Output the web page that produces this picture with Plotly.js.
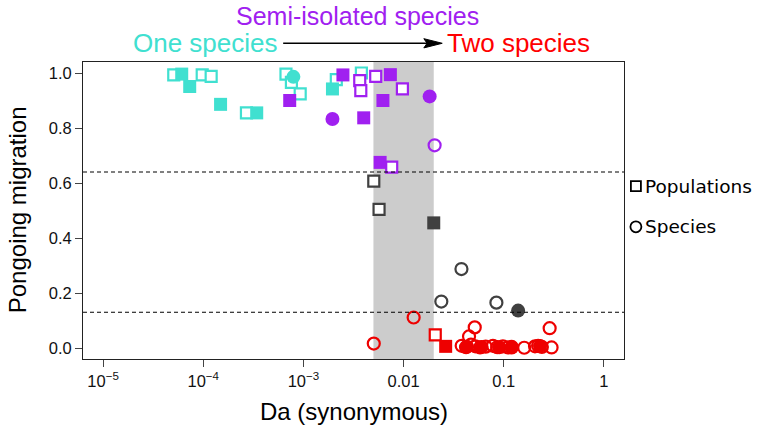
<!DOCTYPE html>
<html>
<head>
<meta charset="utf-8">
<script src="https://cdn.plot.ly/plotly-3.0.1.min.js"></script>
<style>html,body{margin:0;padding:0;background:#fff;}#chart{width:781px;height:429px;}</style>
</head>
<body>
<div id="chart"></div>
<script>
// ---- data ----
var xTickVals = [1e-5, 1e-4, 1e-3, 0.01, 0.1, 1];
var xTickText = ['10<sup>\u22125</sup>', '10<sup>\u22124</sup>', '10<sup>\u22123</sup>', '0.01', '0.1', '1'];
var yTickVals = [0, 0.2, 0.4, 0.6, 0.8, 1.0];
var yTickText = ['0.0', '0.2', '0.4', '0.6', '0.8', '1.0'];
var grayZone = [0.005, 0.02];
var thresholds = [0.64, 0.13];

// One species (turquoise)
var cyanPopOpenX = [5.08e-5, 9.77e-5, 1.20e-4, 2.70e-4, 6.70e-4, 7.59e-4, 9.29e-4, 2.13e-3, 3.79e-3];
var cyanPopOpenY = [0.993, 0.993, 0.988, 0.855, 0.996, 0.966, 0.924, 0.976, 1.0];
var cyanPopFillX = [6.10e-5, 7.33e-5, 1.49e-4, 3.42e-4, 1.95e-3];
var cyanPopFillY = [0.996, 0.951, 0.886, 0.855, 0.942];
var cyanSpFillX = [7.94e-4];
var cyanSpFillY = [0.986];

// Semi-isolated species (purple)
var purplePopFillX = [7.30e-4, 2.48e-3, 4.00e-3, 7.38e-3, 6.22e-3, 5.83e-3];
var purplePopFillY = [0.900, 0.993, 0.837, 0.994, 0.900, 0.675];
var purplePopOpenX = [3.65e-3, 3.74e-3, 5.27e-3, 9.73e-3, 7.61e-3];
var purplePopOpenY = [0.972, 0.936, 0.988, 0.942, 0.658];
var purpleSpFillX = [1.95e-3, 0.0182];
var purpleSpFillY = [0.833, 0.915];
var purpleSpOpenX = [0.0204];
var purpleSpOpenY = [0.737];

// Grey zone (dark grey)
var greyPopOpenX = [5.04e-3, 5.69e-3];
var greyPopOpenY = [0.607, 0.504];
var greyPopFillX = [0.0200];
var greyPopFillY = [0.455];
var greySpOpenX = [0.0378, 0.0238, 0.0844];
var greySpOpenY = [0.287, 0.169, 0.165];
var greySpFillX = [0.139];
var greySpFillY = [0.136];

// Two species (red)
var redPopOpenX = [0.0207];
var redPopOpenY = [0.048];
var redPopFillX = [0.0263];
var redPopFillY = [0.006];
var redSpOpenX = [5.04e-3, 0.0126, 0.0513, 0.045, 0.287, 0.038, 0.042, 0.047, 0.052, 0.058, 0.066, 0.078, 0.086, 0.098, 0.11, 0.12, 0.16, 0.205, 0.22, 0.24, 0.30];
var redSpOpenY = [0.016, 0.111, 0.075, 0.042, 0.072, 0.008, 0.003, 0.012, 0.006, 0.002, 0.005, 0.008, 0.003, 0.006, 0.002, 0.004, 0.001, 0.006, 0.008, 0.004, 0.002];
var redSpFillX = [0.043, 0.06, 0.09, 0.12, 0.23];
var redSpFillY = [0.005, 0.004, 0.003, 0.002, 0.007];

// ---- styles ----
var CYAN = '#40E0D0', PURPLE = '#A020F0', GREY = '#404040', RED = '#EE0000';

function tr(x, y, color, kind) {
  var m;
  if (kind === 'sqOpen') m = {symbol: 'square', size: 11, color: '#ffffff', line: {color: color, width: 2.2}};
  else if (kind === 'sqFill') m = {symbol: 'square', size: 13, color: color, line: {width: 0}};
  else if (kind === 'ciOpen') m = {symbol: 'circle-open', size: 12, color: color, line: {color: color, width: 2.2}};
  else m = {symbol: 'circle', size: 14, color: color, line: {width: 0}};
  return {x: x, y: y, type: 'scatter', mode: 'markers', marker: m, showlegend: false, hoverinfo: 'x+y'};
}

var data = [
  tr(cyanPopOpenX, cyanPopOpenY, CYAN, 'sqOpen'),
  tr(cyanPopFillX, cyanPopFillY, CYAN, 'sqFill'),
  tr(cyanSpFillX, cyanSpFillY, CYAN, 'ciFill'),
  tr(purplePopFillX, purplePopFillY, PURPLE, 'sqFill'),
  tr(purplePopOpenX, purplePopOpenY, PURPLE, 'sqOpen'),
  tr(purpleSpFillX, purpleSpFillY, PURPLE, 'ciFill'),
  tr(purpleSpOpenX, purpleSpOpenY, PURPLE, 'ciOpen'),
  tr(greyPopOpenX, greyPopOpenY, GREY, 'sqOpen'),
  tr(greyPopFillX, greyPopFillY, GREY, 'sqFill'),
  tr(greySpOpenX, greySpOpenY, GREY, 'ciOpen'),
  tr(greySpFillX, greySpFillY, GREY, 'ciFill'),
  tr(redPopOpenX, redPopOpenY, RED, 'sqOpen'),
  tr(redPopFillX, redPopFillY, RED, 'sqFill'),
  tr(redSpOpenX, redSpOpenY, RED, 'ciOpen'),
  tr(redSpFillX, redSpFillY, RED, 'ciFill')
];

var tickFont = {family: 'Liberation Sans, Arial, sans-serif', size: 16.5, color: '#111'};
var titleFont = {family: 'Liberation Sans, Arial, sans-serif', size: 24, color: '#000'};
var headFont = 'Liberation Sans, Arial, sans-serif';

var shapes = [
  {type: 'rect', xref: 'x', yref: 'paper', x0: grayZone[0], x1: grayZone[1], y0: 0, y1: 1,
   fillcolor: '#CCCCCC', line: {width: 0}, layer: 'below'}
];
thresholds.forEach(function (t) {
  shapes.push({type: 'line', xref: 'paper', yref: 'y', x0: 0, x1: 1, y0: t, y1: t,
    line: {color: '#000', width: 1, dash: '4px,3px'}, layer: 'above'});
});
// arrow between the header labels
shapes.push({type: 'line', xref: 'paper', yref: 'paper', x0: 0.370, x1: 0.640, y0: 1.063, y1: 1.063,
  line: {color: '#000', width: 1.6}});
shapes.push({type: 'path', xref: 'paper', yref: 'paper', path: 'M0.664,1.063 L0.630,1.0785 L0.636,1.063 L0.630,1.0475 Z',
  fillcolor: '#000', line: {color: '#000', width: 1}});
// legend symbols
shapes.push({type: 'rect', xref: 'paper', yref: 'paper', xsizemode: 'pixel', ysizemode: 'pixel',
  xanchor: 1.022, yanchor: 0.582, x0: -5, x1: 5, y0: -5, y1: 5, line: {color: '#000', width: 1.8}});
shapes.push({type: 'circle', xref: 'paper', yref: 'paper', xsizemode: 'pixel', ysizemode: 'pixel',
  xanchor: 1.022, yanchor: 0.445, x0: -5.5, x1: 5.5, y0: -5.5, y1: 5.5, line: {color: '#000', width: 1.8}});

var annotations = [
  {text: 'Semi-isolated species', xref: 'paper', yref: 'paper', x: 0.507, y: 1.204, showarrow: false,
   xanchor: 'center', yanchor: 'top', borderpad: 0, font: {family: headFont, size: 25, color: PURPLE}},
  {text: 'One species', xref: 'paper', yref: 'paper', x: 0.226, y: 1.063, showarrow: false,
   xanchor: 'center', yanchor: 'middle', font: {family: headFont, size: 26, color: CYAN}},
  {text: 'Two species', xref: 'paper', yref: 'paper', x: 0.805, y: 1.063, showarrow: false,
   xanchor: 'center', yanchor: 'middle', font: {family: headFont, size: 26, color: '#FF0000'}},
  {text: 'Pongoing migration', xref: 'paper', yref: 'paper', x: -0.1195, y: 0.502, textangle: -90,
   showarrow: false, xanchor: 'center', yanchor: 'middle', font: titleFont},
  {text: 'Da (synonymous)', xref: 'paper', yref: 'paper', x: 0.5, y: -0.177, showarrow: false,
   xanchor: 'center', yanchor: 'middle', font: titleFont},
  {text: 'Populations', xref: 'paper', yref: 'paper', x: 1.035, y: 0.582, showarrow: false,
   xanchor: 'left', yanchor: 'middle', font: {family: 'DejaVu Sans, sans-serif', size: 18.5, color: '#000'}},
  {text: 'Species', xref: 'paper', yref: 'paper', x: 1.035, y: 0.445, showarrow: false,
   xanchor: 'left', yanchor: 'middle', font: {family: 'DejaVu Sans, sans-serif', size: 18.5, color: '#000'}}
];

var layout = {
  width: 781, height: 429,
  margin: {l: 83, r: 157, t: 62, b: 70, pad: 0},
  paper_bgcolor: '#fff', plot_bgcolor: '#fff',
  showlegend: false,
  xaxis: {type: 'log', range: [-5.2, 0.2], tickvals: xTickVals, ticktext: xTickText,
    ticks: 'outside', ticklen: 7, tickwidth: 1, tickcolor: '#444', showgrid: false, zeroline: false,
    showline: true, mirror: true, linecolor: '#222', linewidth: 1, tickfont: tickFont},
  yaxis: {range: [-0.04, 1.04], tickvals: yTickVals, ticktext: yTickText,
    ticks: 'outside', ticklen: 7, tickwidth: 1, tickcolor: '#444', showgrid: false, zeroline: false,
    showline: true, mirror: true, linecolor: '#222', linewidth: 1, tickfont: tickFont},
  shapes: shapes,
  annotations: annotations
};

Plotly.newPlot('chart', data, layout, {displayModeBar: false, staticPlot: true});
</script>
</body>
</html>
